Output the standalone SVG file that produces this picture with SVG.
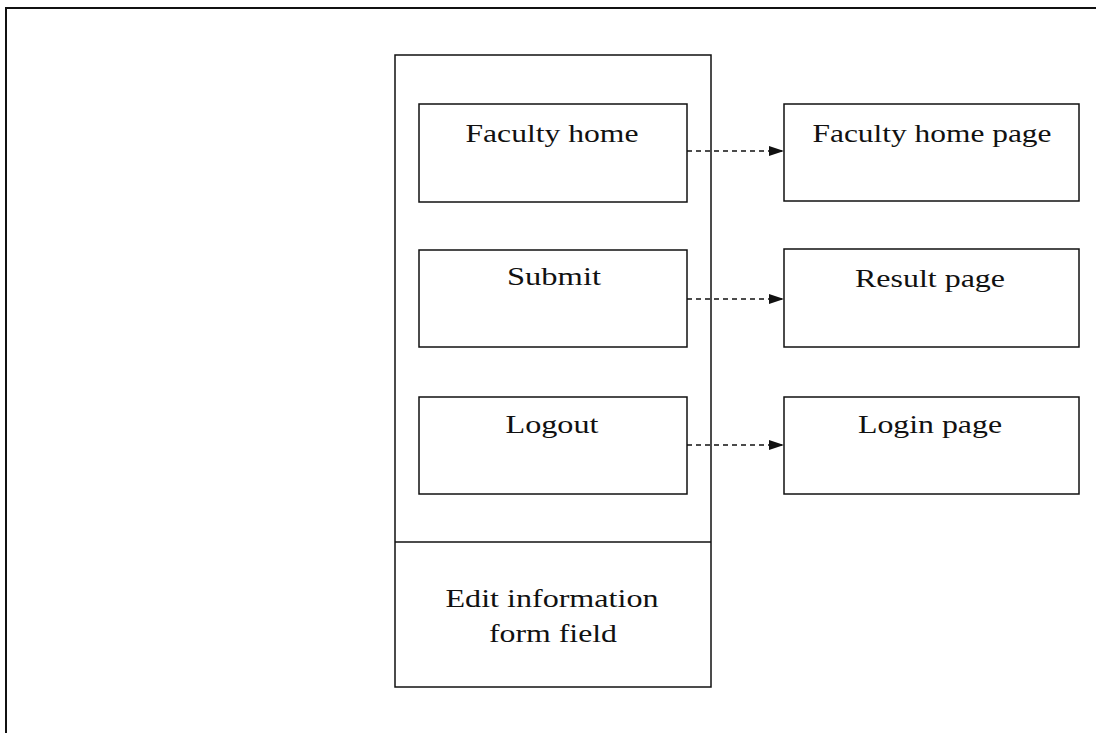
<svg xmlns="http://www.w3.org/2000/svg" width="1096" height="733" viewBox="0 0 1096 733">
<style>
.box{fill:#fff;stroke:#111;stroke-width:1.5}
.frame{fill:none;stroke:#111;stroke-width:2}
.lbl{font-family:"Liberation Serif","Times New Roman",serif;font-size:26px;fill:#111;text-anchor:middle}
.conn{stroke:#111;stroke-width:1.5;stroke-dasharray:5,4;fill:none}
</style>
<defs>
<marker id="arr" viewBox="0 0 15 10" refX="15" refY="5" markerWidth="15" markerHeight="10" markerUnits="userSpaceOnUse" orient="auto">
<path d="M0,0 L15,5 L0,10 Z" fill="#111"/>
</marker>
</defs>
<g id="frame">
<path class="frame" d="M6,733 L6,8 L1096,8"/>
</g>
<g id="container">
<rect class="box" x="395" y="55" width="316" height="632"/>
<line x1="395" y1="542" x2="711" y2="542" stroke="#111" stroke-width="1.5"/>
</g>
<g id="edit-info">
<text class="lbl" x="552" y="607" textLength="213" lengthAdjust="spacingAndGlyphs">Edit information</text>
<text class="lbl" x="553" y="642" textLength="128" lengthAdjust="spacingAndGlyphs">form field</text>
</g>
<g id="faculty-home">
<rect class="box" x="419" y="104" width="268" height="98"/>
<text class="lbl" x="552" y="142" textLength="173" lengthAdjust="spacingAndGlyphs">Faculty home</text>
</g>
<g id="submit">
<rect class="box" x="419" y="250" width="268" height="97"/>
<text class="lbl" x="554" y="285" textLength="94" lengthAdjust="spacingAndGlyphs">Submit</text>
</g>
<g id="logout">
<rect class="box" x="419" y="397" width="268" height="97"/>
<text class="lbl" x="552" y="433" textLength="93" lengthAdjust="spacingAndGlyphs">Logout</text>
</g>
<g id="faculty-home-page">
<rect class="box" x="784" y="104" width="295" height="97"/>
<text class="lbl" x="932" y="142" textLength="239" lengthAdjust="spacingAndGlyphs">Faculty home page</text>
</g>
<g id="result-page">
<rect class="box" x="784" y="249" width="295" height="98"/>
<text class="lbl" x="930" y="287" textLength="150" lengthAdjust="spacingAndGlyphs">Result page</text>
</g>
<g id="login-page">
<rect class="box" x="784" y="397" width="295" height="97"/>
<text class="lbl" x="930" y="433" textLength="144" lengthAdjust="spacingAndGlyphs">Login page</text>
</g>
<g id="connectors">
<line class="conn" x1="687" y1="151" x2="784" y2="151" marker-end="url(#arr)"/>
<line class="conn" x1="687" y1="299" x2="784" y2="299" marker-end="url(#arr)"/>
<line class="conn" x1="687" y1="445" x2="784" y2="445" marker-end="url(#arr)"/>
</g>
</svg>
